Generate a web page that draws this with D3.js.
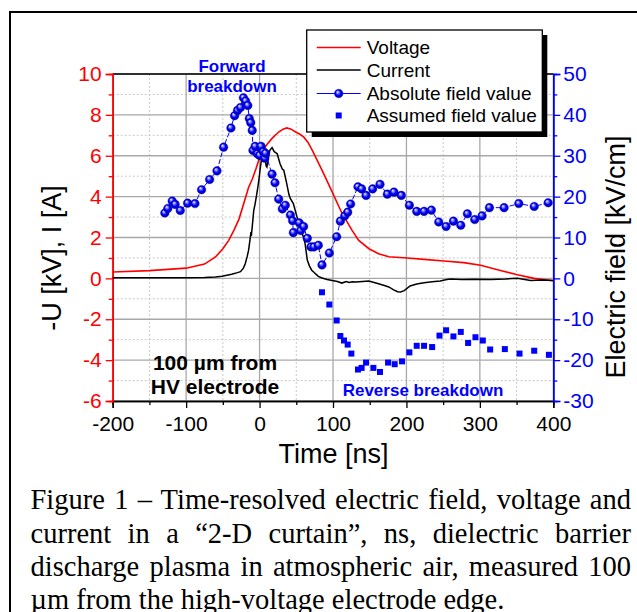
<!DOCTYPE html>
<html>
<head>
<meta charset="utf-8">
<script src="https://cdn.jsdelivr.net/npm/d3@7"></script>
<style>
  body { margin: 0; background: #fff; }
  svg { display: block; }
</style>
</head>
<body>
<div id="chart-area"></div>
<script>
// voltage (red) -U [kV] vs time [ns]
const voltage = [[-200,0.31],[-150,0.38],[-100,0.5],[-75,0.7],[-60,1.05],[-50,1.45],[-42,1.86],[-35,2.35],
  [-28,2.9],[-20,3.85],[-15,4.45],[-10,4.85],[-5,5.35],[0,5.9],[5,6.3],[10,6.55],[17,6.85],[26,7.16],
  [32,7.3],[37,7.36],[43,7.3],[49,7.16],[55,7.05],[60,6.92],[66,6.65],[72,6.25],[85,5.3],[99,4.22],
  [112,3.2],[126,2.35],[135,1.86],[149,1.45],[162,1.21],[176,1.06],[201,1.0],[224,0.93],[251,0.85],
  [278,0.77],[301,0.64],[328,0.39],[351,0.18],[374,0.0],[400,-0.12]];

// current (black) I [A]
const current = [[-200,0.03],[-150,0.03],[-100,0.03],[-75,0.04],[-60,0.07],[-51,0.1],[-38,0.2],[-30,0.28],
  [-26,0.33],[-22,0.5],[-19.5,0.72],[-17,1.05],[-15,1.37],[-13,1.9],[-12,2.2],[-11,2.15],[-9,2.9],[-8,3.3],
  [-6,3.66],[-3,4.3],[-1,4.8],[1,5.4],[2.5,5.8],[5,6.2],[7,6.0],[9,5.5],[10,5.45],[12,5.9],[14,6.27],
  [17,6.4],[20,6.2],[24,6.1],[28,5.6],[31,5.35],[33,5.29],[37,4.64],[40,4.1],[42,3.9],[46,3.66],[51,3.0],
  [55,2.6],[58,2.2],[60,2.0],[62,1.7],[65,0.9],[68,0.6],[71,0.4],[74,0.3],[76,0.23],[80,0.1],[85,0.02],
  [92,-0.05],[99,-0.1],[106,-0.15],[112,-0.23],[118,-0.15],[122,-0.2],[126,-0.17],[131,-0.18],[140,-0.15],
  [149,-0.13],[156,-0.2],[162,-0.26],[170,-0.35],[176,-0.42],[182,-0.55],[188,-0.65],[192,-0.67],[197,-0.6],
  [205,-0.37],[214,-0.28],[224,-0.21],[235,-0.17],[246,-0.13],[255,-0.05],[260,-0.03],[275,-0.05],
  [292,-0.04],[315,-0.05],[335,-0.03],[351,0.0],[369,-0.1],[385,-0.08],[400,-0.1]];

// absolute field value [kV/cm] (right axis)
const fieldAbs = [[-129,16.0],[-125,17.1],[-119,18.9],[-115,18.1],[-108,16.6],[-98,18.4],[-88,18.3],
  [-79,21.7],[-68,24.2],[-58,26.3],[-49,32.1],[-39,36.8],[-34,39.8],[-30,41.1],[-26,41.8],[-22,44.2],
  [-19,43.4],[-16,42.3],[-14,39.1],[-12,38.1],[-10,36.2],[-9,31.3],[-6,32.3],[-3,30.5],[0,30.1],[2,32.3],
  [5,31.0],[7,29.4],[8,30.6],[17,25.5],[21,23.4],[26,19.4],[31,17.0],[35,17.9],[42,15.5],[45,14.1],
  [46,11.2],[54,13.6],[56,11.7],[60,12.7],[65,9.8],[70,7.7],[74,7.7],[80,8.1],[85,3.3],[95,6.2],
  [105,10.2],[110,14.0],[116,15.3],[120,16.2],[124,18.2],[134,22.4],[139,21.9],[145,20.3],[154,21.9],
  [164,23.0],[174,20.6],[183,21.1],[193,20.3],[204,17.9],[214,16.4],[224,16.4],[234,16.7],[244,13.8],
  [254,12.7],[264,14.0],[274,13.0],[283,15.8],[293,14.4],[303,15.3],[313,17.3],[333,17.3],[353,18.3],
  [374,17.6],[393,18.5]];

// assumed field value [kV/cm] (squares)
const fieldAssumed = [[85,-3.4],[95,-6.4],[105,-10.3],[110,-14.1],[115,-15.2],[120,-16.2],[125,-18.4],
  [134,-22.3],[139,-21.9],[145,-20.6],[155,-21.9],[164,-22.9],[175,-20.6],[184,-21.0],[194,-20.3],
  [204,-18.1],[214,-16.5],[224,-16.5],[235,-16.8],[245,-14.0],[254,-12.7],[264,-14.2],[274,-13.1],
  [284,-15.8],[294,-14.4],[304,-15.2],[314,-17.4],[334,-17.3],[354,-18.4],[374,-17.7],[394,-18.7]];

const xMajor = [-200, -100, 0, 100, 200, 300, 400];
const xMinor = [-150, -50, 50, 150, 250, 350];
const yMajor = [-6, -4, -2, 0, 2, 4, 6, 8, 10];
const yMinor = [-5, -3, -1, 1, 3, 5, 7, 9];
const y2Major = [-30, -20, -10, 0, 10, 20, 30, 40, 50];
const y2Minor = [-25, -15, -5, 5, 15, 25, 35, 45];

const legendItems = ["Voltage", "Current", "Absolute field value", "Assumed field value"];
const captionLines = [
  "Figure 1 \u2013 Time-resolved electric field, voltage and",
  "current in a \u201c2-D curtain\u201d, ns, dielectric barrier",
  "discharge plasma in atmospheric air, measured 100",
  "\u00b5m from the high-voltage electrode edge."
];

const W = 637, H = 612;
const plot = { left: 112.7, right: 553.3, top: 74, bottom: 401 };
const FONT = "Liberation Sans, Arial, sans-serif";
const BLUE = "#0000ff", RED = "#ff0000";

let svg = d3.select("#chart-area").append("svg")
  .attr("width", W).attr("height", H);

svg.append("rect").attr("width", W).attr("height", H).attr("fill", "#fff");

// outer frame
svg.append("rect")
  .attr("x", 10).attr("y", 12).attr("width", 700).attr("height", 700)
  .attr("fill", "none").attr("stroke", "#000").attr("stroke-width", 2);

let defs = svg.append("defs");
let grad = defs.append("radialGradient").attr("id", "ball")
  .attr("cx", "50%").attr("cy", "50%").attr("r", "50%")
  .attr("fx", "35%").attr("fy", "30%");
grad.append("stop").attr("offset", "0%").attr("stop-color", "#ffffff");
grad.append("stop").attr("offset", "25%").attr("stop-color", "#9090ff");
grad.append("stop").attr("offset", "60%").attr("stop-color", "#0000ff");
grad.append("stop").attr("offset", "100%").attr("stop-color", "#0000a8");

let x = d3.scaleLinear().domain([-200, 400]).range([plot.left, plot.right]);
let y = d3.scaleLinear().domain([-6, 10]).range([plot.bottom, plot.top]);
let y2 = d3.scaleLinear().domain([-30, 50]).range([plot.bottom, plot.top]);

// GRID
let grid = svg.append("g").attr("class", "grid");
grid.selectAll(".vminor").data(xMinor).enter().append("line")
  .attr("x1", d => x(d)).attr("x2", d => x(d))
  .attr("y1", plot.top).attr("y2", plot.bottom)
  .attr("stroke", "#c8c8c8").attr("stroke-width", 1).attr("stroke-dasharray", "2,2");
grid.selectAll(".hminor").data(yMinor).enter().append("line")
  .attr("x1", plot.left).attr("x2", plot.right)
  .attr("y1", d => y(d)).attr("y2", d => y(d))
  .attr("stroke", "#c8c8c8").attr("stroke-width", 1).attr("stroke-dasharray", "2,2");
grid.selectAll(".vmajor").data(xMajor).enter().append("line")
  .attr("x1", d => x(d)).attr("x2", d => x(d))
  .attr("y1", plot.top).attr("y2", plot.bottom)
  .attr("stroke", "#a8a8a8").attr("stroke-width", 1.3);
grid.selectAll(".hmajor").data(yMajor).enter().append("line")
  .attr("x1", plot.left).attr("x2", plot.right)
  .attr("y1", d => y(d)).attr("y2", d => y(d))
  .attr("stroke", "#a8a8a8").attr("stroke-width", 1.3);

// top border
svg.append("line").attr("x1", plot.left).attr("x2", plot.right)
  .attr("y1", plot.top).attr("y2", plot.top)
  .attr("stroke", "#000").attr("stroke-width", 1.5);

// AXES
function styleAxis(g, color, size) {
  g.select(".domain").attr("stroke", color).attr("stroke-width", 1.5);
  g.selectAll(".tick line").attr("stroke", color).attr("stroke-width", 1.3);
  g.selectAll("text").attr("fill", color).style("font-family", FONT).style("font-size", size + "px");
}

let xAxisMinor = svg.append("g").attr("transform", "translate(0," + plot.bottom + ")")
  .call(d3.axisBottom(x).tickValues(xMinor).tickSize(4).tickFormat(""));
styleAxis(xAxisMinor, "#000", 21);
let xAxisGroup = svg.append("g").attr("transform", "translate(0," + plot.bottom + ")")
  .call(d3.axisBottom(x).tickValues(xMajor).tickSize(7).tickPadding(8).tickFormat(d => String(d)));
styleAxis(xAxisGroup, "#000", 21);

let yAxisMinor = svg.append("g").attr("transform", "translate(" + plot.left + ",0)")
  .call(d3.axisLeft(y).tickValues(yMinor).tickSize(4).tickFormat(""));
styleAxis(yAxisMinor, RED, 21);
let yAxisGroup = svg.append("g").attr("transform", "translate(" + plot.left + ",0)")
  .call(d3.axisLeft(y).tickValues(yMajor).tickSize(7).tickPadding(4).tickFormat(d => String(d)));
styleAxis(yAxisGroup, RED, 21);

let y2AxisMinor = svg.append("g").attr("transform", "translate(" + plot.right + ",0)")
  .call(d3.axisRight(y2).tickValues(y2Minor).tickSize(4).tickFormat(""));
styleAxis(y2AxisMinor, BLUE, 21);
let y2AxisGroup = svg.append("g").attr("transform", "translate(" + plot.right + ",0)")
  .call(d3.axisRight(y2).tickValues(y2Major).tickSize(7).tickPadding(3).tickFormat(d => String(d)));
styleAxis(y2AxisGroup, BLUE, 21);

// axis titles
svg.append("text").attr("x", 333.5).attr("y", 462.5).attr("text-anchor", "middle")
  .style("font-family", FONT).style("font-size", "27px").text("Time [ns]");
svg.append("text").attr("transform", "translate(61,258) rotate(-90)").attr("text-anchor", "middle")
  .style("font-family", FONT).style("font-size", "27px").text("-U [kV], I [A]");
svg.append("text").attr("transform", "translate(625,257) rotate(-90)").attr("text-anchor", "middle")
  .style("font-family", FONT).style("font-size", "27px").text("Electric field [kV/cm]");

// DATA
let lineY = d3.line().x(d => x(d[0])).y(d => y(d[1]));
let lineY2 = d3.line().x(d => x(d[0])).y(d => y2(d[1]));

svg.append("path").datum(voltage).attr("d", lineY)
  .attr("fill", "none").attr("stroke", RED).attr("stroke-width", 1.6);
svg.append("path").datum(current).attr("d", lineY)
  .attr("fill", "none").attr("stroke", "#000").attr("stroke-width", 1.5);

svg.append("path").datum(fieldAbs).attr("d", lineY2)
  .attr("fill", "none").attr("stroke", BLUE).attr("stroke-width", 1)
  .attr("stroke-dasharray", "5,2");

svg.selectAll(".abs").data(fieldAbs).enter().append("circle")
  .attr("class", "abs")
  .attr("cx", d => x(d[0])).attr("cy", d => y2(d[1])).attr("r", 4.3)
  .attr("fill", "url(#ball)").attr("stroke", "#0000b0").attr("stroke-width", 0.4);

svg.selectAll(".assumed").data(fieldAssumed).enter().append("rect")
  .attr("class", "assumed")
  .attr("x", d => x(d[0]) - 3).attr("y", d => y2(d[1]) - 3)
  .attr("width", 6).attr("height", 6).attr("fill", BLUE);

// ANNOTATIONS
function label(txt, lx, ly, size, color) {
  svg.append("text").attr("x", lx).attr("y", ly).attr("text-anchor", "middle")
    .attr("fill", color).style("font-family", FONT).style("font-weight", "bold")
    .style("font-size", size + "px").text(txt);
}
label("Forward", 232, 71.5, 17, BLUE);
label("breakdown", 232, 92, 17, BLUE);
label("Reverse breakdown", 423, 396, 17, BLUE);
label("100 \u00b5m from", 215, 370, 21, "#000");
label("HV electrode", 215, 394, 21, "#000");

// LEGEND
let lg = svg.append("g");
lg.append("rect").attr("x", 311.7).attr("y", 35).attr("width", 235.6).attr("height", 102).attr("fill", "#000");
lg.append("rect").attr("x", 306.7).attr("y", 30).attr("width", 235.6).attr("height", 102)
  .attr("fill", "#fff").attr("stroke", "#000").attr("stroke-width", 1.3);
const rowY = [47.5, 70, 93.5, 115.5];
lg.selectAll(".ltext").data(legendItems).enter().append("text")
  .attr("x", 366.7).attr("y", (d, i) => rowY[i] + 6.8)
  .style("font-family", FONT).style("font-size", "19px").text(d => d);
lg.append("line").attr("x1", 316.7).attr("x2", 360.7).attr("y1", rowY[0]).attr("y2", rowY[0])
  .attr("stroke", RED).attr("stroke-width", 1.6);
lg.append("line").attr("x1", 316.7).attr("x2", 360.7).attr("y1", rowY[1]).attr("y2", rowY[1])
  .attr("stroke", "#000").attr("stroke-width", 1.5);
lg.append("line").attr("x1", 316.7).attr("x2", 360.7).attr("y1", rowY[2]).attr("y2", rowY[2])
  .attr("stroke", BLUE).attr("stroke-width", 1);
lg.append("circle").attr("cx", 338.7).attr("cy", rowY[2]).attr("r", 4.3)
  .attr("fill", "url(#ball)").attr("stroke", "#0000b0").attr("stroke-width", 0.4);
lg.append("rect").attr("x", 335.7).attr("y", rowY[3] - 3).attr("width", 6).attr("height", 6).attr("fill", BLUE);

// CAPTION (justified)
const capLeft = 30.5, capWidth = 600.5;
const capBase = [508.5, 542.5, 575.5, 608.5];
captionLines.forEach(function(txt, i) {
  let t = svg.append("text").attr("x", capLeft).attr("y", capBase[i])
    .style("font-family", "Liberation Serif, Times New Roman, serif")
    .style("font-size", "28.5px").text(txt);
  if (i < captionLines.length - 1) {
    let len = t.node().getComputedTextLength();
    let spaces = txt.split(" ").length - 1;
    if (spaces > 0) t.style("word-spacing", ((capWidth - len) / spaces) + "px");
  }
});
</script>
</body>
</html>
